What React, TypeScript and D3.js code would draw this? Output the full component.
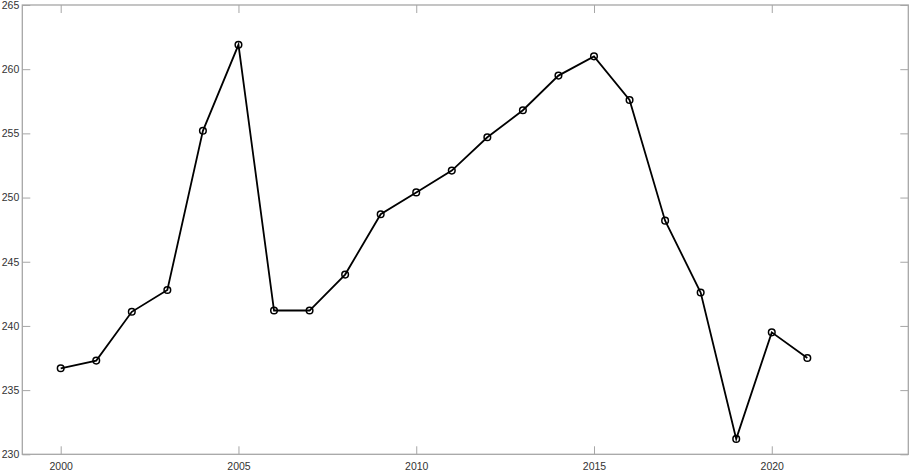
import React, { useEffect, useRef } from "react";
import * as d3 from "d3";

const WIDTH = 913;
const HEIGHT = 473;
const margin = { top: 5, right: 4.7, bottom: 18.7, left: 22.3 };

const years = [
  2000, 2001, 2002, 2003, 2004, 2005, 2006, 2007, 2008, 2009, 2010,
  2011, 2012, 2013, 2014, 2015, 2016, 2017, 2018, 2019, 2020, 2021,
];
const values = [
  236.7, 237.3, 241.1, 242.8, 255.2, 261.9, 241.2, 241.2, 244.0, 248.7, 250.4,
  252.1, 254.7, 256.8, 259.5, 261.0, 257.6, 248.2, 242.6, 231.2, 239.5, 237.5,
];
const xTicks = [2000, 2005, 2010, 2015, 2020];
const yTicks = [230, 235, 240, 245, 250, 255, 260, 265];

export default function App() {
  const axes = useRef<SVGGElement>(null);

  const x = d3
    .scaleLinear()
    .domain([1998.92, 2023.84])
    .range([margin.left, WIDTH - margin.right]);
  const y = d3
    .scaleLinear()
    .domain([230, 265])
    .range([HEIGHT - margin.bottom, margin.top]);

  const data = years.map((yr, i) => ({ year: yr, value: values[i] }));
  const line = d3
    .line<{ year: number; value: number }>()
    .x((d) => x(d.year))
    .y((d) => y(d.value));

  useEffect(() => {
    const g = d3.select(axes.current);
    g.selectAll("*").remove();
    const tickLen = 8;
    const style = (sel: any) => {
      sel.select(".domain").remove();
      sel.selectAll("line").attr("stroke", "#a6a6a6");
      sel
        .selectAll("text")
        .attr("fill", "#333")
        .attr("font-family", "Arial, Liberation Sans, sans-serif")
        .attr("font-size", 10.5);
    };

    // bottom and top x ticks (inward, MATLAB style)
    g.append("g")
      .attr("transform", `translate(0,${HEIGHT - margin.bottom})`)
      .call(d3.axisBottom(x).tickValues(xTicks).tickFormat(d3.format("d")).tickSizeInner(-tickLen).tickSizeOuter(0).tickPadding(8))
      .call(style);
    g.append("g")
      .attr("transform", `translate(0,${margin.top})`)
      .call(d3.axisTop(x).tickValues(xTicks).tickFormat(() => "").tickSizeInner(-tickLen).tickSizeOuter(0))
      .call(style);

    // left and right y ticks
    g.append("g")
      .attr("transform", `translate(${margin.left},0)`)
      .call(d3.axisLeft(y).tickValues(yTicks).tickFormat(d3.format("d")).tickSizeInner(-tickLen).tickSizeOuter(0).tickPadding(3))
      .call(style);
    g.append("g")
      .attr("transform", `translate(${WIDTH - margin.right},0)`)
      .call(d3.axisRight(y).tickValues(yTicks).tickFormat(() => "").tickSizeInner(-tickLen).tickSizeOuter(0))
      .call(style);
  }, []);

  return (
    <svg
      width={WIDTH}
      height={HEIGHT}
      style={{ position: "absolute", left: 0, top: 0, background: "#fff" }}
    >
      <rect
        x={margin.left}
        y={margin.top}
        width={WIDTH - margin.left - margin.right}
        height={HEIGHT - margin.top - margin.bottom}
        fill="#fff"
        stroke="#a6a6a6"
        strokeWidth={1.3}
      />
      <g ref={axes} />
      <path d={line(data) ?? ""} fill="none" stroke="#000" strokeWidth={1.8} />
      {data.map((d) => (
        <circle
          key={d.year}
          cx={x(d.year)}
          cy={y(d.value)}
          r={3.3}
          fill="none"
          stroke="#000"
          strokeWidth={1.5}
        />
      ))}
    </svg>
  );
}
